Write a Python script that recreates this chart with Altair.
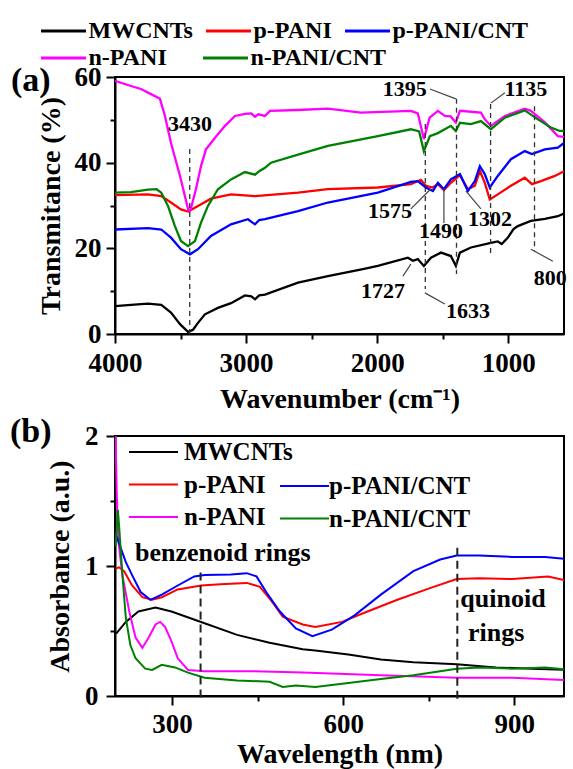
import altair as alt
import pandas as pd

FONT = "Liberation Serif"

# ---------------- Panel (a): FTIR ----------------
A1_NAMES = ["MWCNTs", "p-PANI", "p-PANI/CNT"]
A1_COLORS = ["#000000", "#ff0000", "#0000ff"]
A2_NAMES = ["n-PANI", "n-PANI/CNT"]
A2_COLORS = ["#ff00ff", "#008000"]

MW_WN = [4000, 3878, 3748, 3647, 3573, 3504, 3443, 3405, 3367, 3314, 3215, 3115, 3009, 2960, 2932, 2900,
         2856, 2604, 2376, 2100, 1995, 1766, 1727, 1690, 1644, 1590, 1514, 1438, 1400, 1369, 1285, 1133,
         1080, 1050, 1003, 960, 927, 828, 721, 622, 561, 523]
MW_T = [6.5, 6.8, 7.1, 6.8, 5.0, 2.3, 0.5, 1.0, 2.6, 4.6, 6.1, 7.2, 9.0, 8.8, 8.1, 9.0,
        9.2, 12.0, 13.5, 15.2, 15.9, 17.8, 17.1, 17.5, 15.9, 17.8, 19.0, 18.2, 15.9, 19.0, 20.2, 21.3,
        21.6, 21.0, 22.5, 24.5, 25.2, 26.4, 26.9, 27.5, 28.3, 30.7]

PP_WN = [4000, 3748, 3647, 3573, 3497, 3443, 3367, 3268, 3115, 2932, 2604, 2376, 1995, 1743, 1667, 1629,
         1575, 1537, 1491, 1438, 1369, 1308, 1255, 1217, 1179, 1141, 1080, 980, 874, 820, 751, 645, 569, 523]
PP_T = [32.4, 32.6, 32.2, 30.7, 29.1, 28.6, 29.9, 31.6, 32.6, 32.2, 33.0, 33.8, 34.2, 35.0, 36.0, 34.6,
        34.2, 35.0, 33.6, 35.3, 37.1, 33.8, 34.6, 38.1, 35.3, 31.4, 32.6, 34.6, 36.5, 35.0, 35.7, 36.9, 38.1, 36.9]

PC_WN = [4000, 3748, 3647, 3573, 3497, 3428, 3367, 3268, 3115, 2986, 2932, 2900, 2856, 2604, 2376, 1995,
         1743, 1690, 1629, 1575, 1537, 1491, 1438, 1369, 1308, 1255, 1217, 1179, 1141, 1080, 980, 874,
         820, 721, 622, 523]
PC_T = [24.4, 24.7, 24.4, 22.5, 19.8, 18.6, 19.8, 22.9, 25.6, 26.8, 25.6, 26.6, 26.8, 28.7, 30.7, 33.0,
        35.5, 35.7, 34.2, 33.4, 35.3, 33.8, 36.1, 37.3, 33.4, 35.7, 39.2, 37.3, 34.2, 36.9, 40.8, 42.7,
        42.0, 43.1, 43.5, 45.8]

NP_WN = [4000, 3878, 3802, 3725, 3657, 3619, 3573, 3504, 3443, 3430, 3420, 3382, 3344, 3306, 3237, 3161,
         3085, 3009, 2960, 2932, 2908, 2856, 2818, 2604, 2376, 2124, 1743, 1690, 1644, 1600, 1537, 1484,
         1440, 1400, 1369, 1209, 1179, 1133, 1026, 874, 828, 721, 622, 523]
NP_T = [59.1, 57.9, 57.2, 56.0, 54.9, 50.9, 44.6, 36.9, 29.2, 28.7, 29.4, 33.9, 39.2, 43.1, 45.8, 48.6,
        50.9, 51.4, 51.5, 50.7, 51.3, 50.9, 52.1, 52.3, 52.6, 51.7, 52.1, 51.5, 45.5, 50.5, 52.1, 50.9,
        50.8, 49.4, 52.1, 51.7, 50.1, 48.6, 50.9, 52.6, 52.1, 49.4, 46.2, 45.8]

NC_WN = [4000, 3878, 3748, 3683, 3647, 3596, 3543, 3497, 3443, 3390, 3344, 3291, 3215, 3115, 3009, 2932,
         2900, 2856, 2810, 2604, 2376, 1995, 1743, 1680, 1644, 1598, 1537, 1438, 1400, 1369, 1285, 1209,
         1133, 1026, 874, 774, 675, 608, 523]
NC_T = [33.0, 33.1, 33.7, 33.8, 33.0, 29.9, 25.2, 21.7, 20.5, 21.7, 26.0, 29.9, 33.8, 36.1, 37.8, 37.2,
        38.0, 38.8, 40.0, 41.9, 43.9, 46.2, 47.8, 47.3, 42.7, 46.2, 46.9, 48.6, 47.4, 49.3, 49.0, 49.7,
        47.8, 50.5, 52.2, 50.1, 48.2, 47.4, 47.4]

# peak annotations (a)
A_LABELS = ["3430", "1395", "1135", "1575", "1490", "1302", "1727", "1633", "800"]
A_LABEL_WN = [3428, 1789, 866, 1903, 1514, 1140, 1956, 1308, 680]
A_LABEL_T = [49.0, 57.2, 57.2, 28.7, 24.0, 26.9, 10.0, 5.4, 13.1]
A_DASH_WN = [3430, 1633, 1395, 1135, 800]
A_DASH_TOP = [43.2, 49.0, 54.9, 53.7, 53.2]
A_DASH_BOT = [0.0, 10.5, 14.0, 18.7, 19.4]
A_LEAD_WN1 = [1598, 1133, 828, 1804, 1636, 1743, 1491, 1324]
A_LEAD_T1 = [57.2, 53.9, 19.8, 13.5, 9.6, 29.2, 34.1, 33.4]
A_LEAD_WN2 = [1400, 1026, 660, 1743, 1484, 1590, 1491, 1209]
A_LEAD_T2 = [54.9, 56.3, 17.0, 16.3, 7.0, 33.9, 25.9, 29.2]

# ---------------- Panel (b): UV-vis ----------------
B1_NAMES = ["MWCNTs", "p-PANI", "n-PANI"]
B1_COLORS = ["#000000", "#ff0000", "#ff00ff"]
B2_NAMES = ["p-PANI/CNT", "n-PANI/CNT"]
B2_COLORS = ["#0000ff", "#008000"]

BMW_NM = [202, 219, 241, 271, 299, 357, 414, 471, 529, 551, 609, 666, 723, 799, 868, 930, 1000]
BMW_A = [0.48, 0.57, 0.65, 0.68, 0.65, 0.56, 0.47, 0.41, 0.36, 0.35, 0.32, 0.28, 0.26, 0.245, 0.22, 0.21, 0.20]

BPP_NM = [201, 207, 216, 230, 248, 265, 282, 310, 351, 385, 431, 454, 471, 494, 529, 551, 598, 637, 695,
          752, 799, 838, 896, 959, 1000]
BPP_A = [0.98, 0.99, 0.96, 0.85, 0.76, 0.74, 0.76, 0.82, 0.85, 0.86, 0.87, 0.84, 0.75, 0.61, 0.55, 0.53,
         0.57, 0.64, 0.74, 0.83, 0.90, 0.905, 0.90, 0.92, 0.88]

BPC_NM = [201, 210, 219, 230, 245, 262, 282, 310, 339, 357, 403, 431, 448, 465, 489, 517, 546, 580, 620,
          666, 723, 770, 799, 838, 896, 954, 1000]
BPC_A = [1.25, 1.14, 1.03, 0.93, 0.80, 0.74, 0.78, 0.85, 0.92, 0.93, 0.935, 0.945, 0.92, 0.80, 0.65,
         0.52, 0.46, 0.51, 0.62, 0.78, 0.96, 1.05, 1.08, 1.08, 1.07, 1.07, 1.05]

BNP_NM = [201, 203, 206, 213, 225, 236, 248, 259, 271, 279, 288, 299, 310, 328, 357, 443, 529, 666, 799,
          896, 1000]
BNP_A = [2.0, 1.57, 1.19, 0.93, 0.65, 0.45, 0.37, 0.45, 0.55, 0.57, 0.53, 0.42, 0.29, 0.20, 0.19, 0.19,
         0.18, 0.16, 0.14, 0.14, 0.12]

BNC_NM = [201, 205, 207, 213, 219, 227, 236, 253, 265, 282, 305, 328, 357, 414, 471, 494, 517, 551, 609,
          666, 723, 770, 799, 838, 896, 954, 1000]
BNC_A = [1.15, 1.43, 1.32, 0.93, 0.60, 0.39, 0.29, 0.21, 0.20, 0.24, 0.22, 0.18, 0.14, 0.12, 0.11, 0.07,
         0.08, 0.07, 0.10, 0.13, 0.16, 0.19, 0.21, 0.22, 0.21, 0.22, 0.20]

B_DASH_NM = [350, 800]
B_DASH_TOP = [0.95, 1.14]
B_DASH_BOT = [-0.05, -0.05]
B_NOTE_LEFT = ["benzenoid rings"]
B_NOTE_LEFT_NM = [235]
B_NOTE_LEFT_A = [1.10]
B_NOTE_CENTER = ["quinoid", "rings"]
B_NOTE_CENTER_NM = [880, 868]
B_NOTE_CENTER_A = [0.746, 0.485]


def long_df(names, xs, ys, xn, yn):
    rows = []
    for n, xx, yy in zip(names, xs, ys):
        for a, b in zip(xx, yy):
            rows.append({"series": n, xn: a, yn: b})
    return pd.DataFrame(rows)


dfa1 = long_df(A1_NAMES, [MW_WN, PP_WN, PC_WN], [MW_T, PP_T, PC_T], "wn", "T")
dfa2 = long_df(A2_NAMES, [NP_WN, NC_WN], [NP_T, NC_T], "wn", "T")
dfb1 = long_df(B1_NAMES, [BMW_NM, BPP_NM, BNP_NM], [BMW_A, BPP_A, BNP_A], "nm", "A")
dfb2 = long_df(B2_NAMES, [BPC_NM, BNC_NM], [BPC_A, BNC_A], "nm", "A")


def leg(x, y, cols, fs, sw, size, so, lo, colpad=0, rowpad=0, direction="horizontal"):
    return alt.Legend(
        title=None, orient="none", legendX=x, legendY=y, direction=direction, columns=cols,
        symbolType="M-2,0H2", symbolSize=size, symbolStrokeWidth=sw, symbolOffset=so,
        labelOffset=lo, labelFont=FONT, labelFontSize=fs, labelFontWeight="bold",
        labelColor="black", columnPadding=colpad, rowPadding=rowpad, padding=0, labelLimit=300,
    )


W = 449

# ---- axes / scales (a)
xa = alt.X("wn:Q", scale=alt.Scale(domain=[4000, 575], nice=False, zero=False),
           axis=alt.Axis(values=[1000, 1500, 2000, 2500, 3000, 3500, 4000], format="d",
                         labelExpr="datum.value % 1000 == 0 ? datum.label : ''",
                         tickSize={"condition": {"test": "datum.value % 1000 == 0", "value": 9}, "value": 5},
                         labelFlush=False, labelOverlap=False, labelPadding=7,
                         title="Wavenumber (cm⁻¹)", titlePadding=9))
ya = alt.Y("T:Q", scale=alt.Scale(domain=[0, 60], nice=False, zero=False),
           axis=alt.Axis(values=[0, 10, 20, 30, 40, 50, 60],
                         labelExpr="datum.value % 20 == 0 ? datum.label : ''",
                         tickSize={"condition": {"test": "datum.value % 20 == 0", "value": 9}, "value": 5},
                         labelFlush=False, labelOverlap=False, labelPadding=5,
                         title="Transmitance (%)", titlePadding=9))

a_lines1 = alt.Chart(dfa1).mark_line(strokeWidth=2.3, clip=True).encode(
    x=xa, y=ya,
    color=alt.Color("series:N", scale=alt.Scale(domain=A1_NAMES, range=A1_COLORS),
                    legend=leg(-72, -59, 3, 24, 3, 506, 7.5, 12, colpad=7)),
)
a_lines2 = alt.Chart(dfa2).mark_line(strokeWidth=2.3, clip=True).encode(
    x=xa, y=ya,
    stroke=alt.Stroke("series:N", scale=alt.Scale(domain=A2_NAMES, range=A2_COLORS),
                      legend=leg(-72, -32, 2, 24, 3, 506, 7.5, 12, colpad=30)),
)
a_dash = alt.Chart(pd.DataFrame({"wn": A_DASH_WN, "T": A_DASH_TOP, "T2": A_DASH_BOT})).mark_rule(
    strokeDash=[5, 4], strokeWidth=1.3, color="#333333").encode(x=xa, y=ya, y2="T2:Q")
a_lead = alt.Chart(pd.DataFrame({"wn": A_LEAD_WN1, "T": A_LEAD_T1, "wn2": A_LEAD_WN2, "T2": A_LEAD_T2})).mark_rule(
    strokeWidth=1.2, color="#444444").encode(x=xa, y=ya, x2="wn2:Q", y2="T2:Q")
a_text = alt.Chart(pd.DataFrame({"wn": A_LABEL_WN, "T": A_LABEL_T, "lab": A_LABELS})).mark_text(
    font=FONT, fontSize=22, fontWeight="bold", color="black").encode(x=xa, y=ya, text="lab:N")
a_tag = alt.Chart(pd.DataFrame({"wn": [4793], "T": [59.1], "lab": ["(a)"]})).mark_text(
    font=FONT, fontSize=34, fontWeight="bold", color="black", align="left", baseline="middle").encode(
    x=xa, y=ya, text="lab:N")

panel_a = alt.layer(a_lines1, a_lines2, a_dash, a_lead, a_text, a_tag).properties(width=W, height=257)

# ---- axes / scales (b)
xb = alt.X("nm:Q", scale=alt.Scale(domain=[200, 987], nice=False, zero=False),
           axis=alt.Axis(values=[300, 450, 600, 750, 900], format="d",
                         labelExpr="datum.value % 300 == 0 ? datum.label : ''",
                         tickSize={"condition": {"test": "datum.value % 300 == 0", "value": 9}, "value": 5},
                         labelFlush=False, labelOverlap=False, labelPadding=6,
                         title="Wavelength (nm)", titlePadding=3))
yb = alt.Y("A:Q", scale=alt.Scale(domain=[0, 2], nice=False, zero=False),
           axis=alt.Axis(values=[0, 0.5, 1, 1.5, 2], format=".0f",
                         labelExpr="datum.value % 1 == 0 ? datum.label : ''",
                         tickSize={"condition": {"test": "datum.value % 1 == 0", "value": 9}, "value": 5},
                         labelFlush=False, labelOverlap=False, labelPadding=8,
                         title="Absorbance (a.u.)", titlePadding=10))

b_lines1 = alt.Chart(dfb1).mark_line(strokeWidth=2, clip=True).encode(
    x=xb, y=yb,
    color=alt.Color("series:N", scale=alt.Scale(domain=B1_NAMES, range=B1_COLORS),
                    legend=leg(24, 2.5, 1, 25, 2, 600, 1, 17, rowpad=5.5, direction="vertical")),
)
b_lines2 = alt.Chart(dfb2).mark_line(strokeWidth=2, clip=True).encode(
    x=xb, y=yb,
    stroke=alt.Stroke("series:N", scale=alt.Scale(domain=B2_NAMES, range=B2_COLORS),
                      legend=leg(172, 36.5, 1, 25, 2, 600, 4, 11, rowpad=5.5, direction="vertical")),
)
b_dash = alt.Chart(pd.DataFrame({"nm": B_DASH_NM, "A": B_DASH_TOP, "A2": B_DASH_BOT})).mark_rule(
    strokeDash=[8, 5], strokeWidth=2, color="#222222").encode(x=xb, y=yb, y2="A2:Q")
b_note_l = alt.Chart(pd.DataFrame({"nm": B_NOTE_LEFT_NM, "A": B_NOTE_LEFT_A, "lab": B_NOTE_LEFT})).mark_text(
    font=FONT, fontSize=26, fontWeight="bold", color="black", baseline="middle", align="left").encode(
    x=xb, y=yb, text="lab:N")
b_note_c = alt.Chart(pd.DataFrame({"nm": B_NOTE_CENTER_NM, "A": B_NOTE_CENTER_A, "lab": B_NOTE_CENTER})).mark_text(
    font=FONT, fontSize=26, fontWeight="bold", color="black", baseline="middle", align="center").encode(
    x=xb, y=yb, text="lab:N")
b_tag = alt.Chart(pd.DataFrame({"nm": [16], "A": [2.03], "lab": ["(b)"]})).mark_text(
    font=FONT, fontSize=34, fontWeight="bold", color="black", align="left", baseline="middle").encode(
    x=xb, y=yb, text="lab:N")

panel_b = alt.layer(b_lines1, b_lines2, b_dash, b_note_l, b_note_c, b_tag).properties(width=W, height=260)

chart = alt.vconcat(panel_a, panel_b, spacing=0).resolve_scale(
    color="independent", stroke="independent").resolve_legend(
    color="independent", stroke="independent").properties(
    padding={"left": 9, "top": 17, "right": 0, "bottom": 0},
    background="white",
).configure_view(stroke="black", strokeWidth=2).configure_axis(
    domainColor="black", domainWidth=2, tickColor="black", tickWidth=2, grid=False,
    labelFont=FONT, labelFontSize=27, labelFontWeight="bold", labelColor="black",
    titleFont=FONT, titleFontSize=28, titleFontWeight="bold", titleColor="black",
)

chart.save("out.html", embed_options={"renderer": "svg", "actions": False})
